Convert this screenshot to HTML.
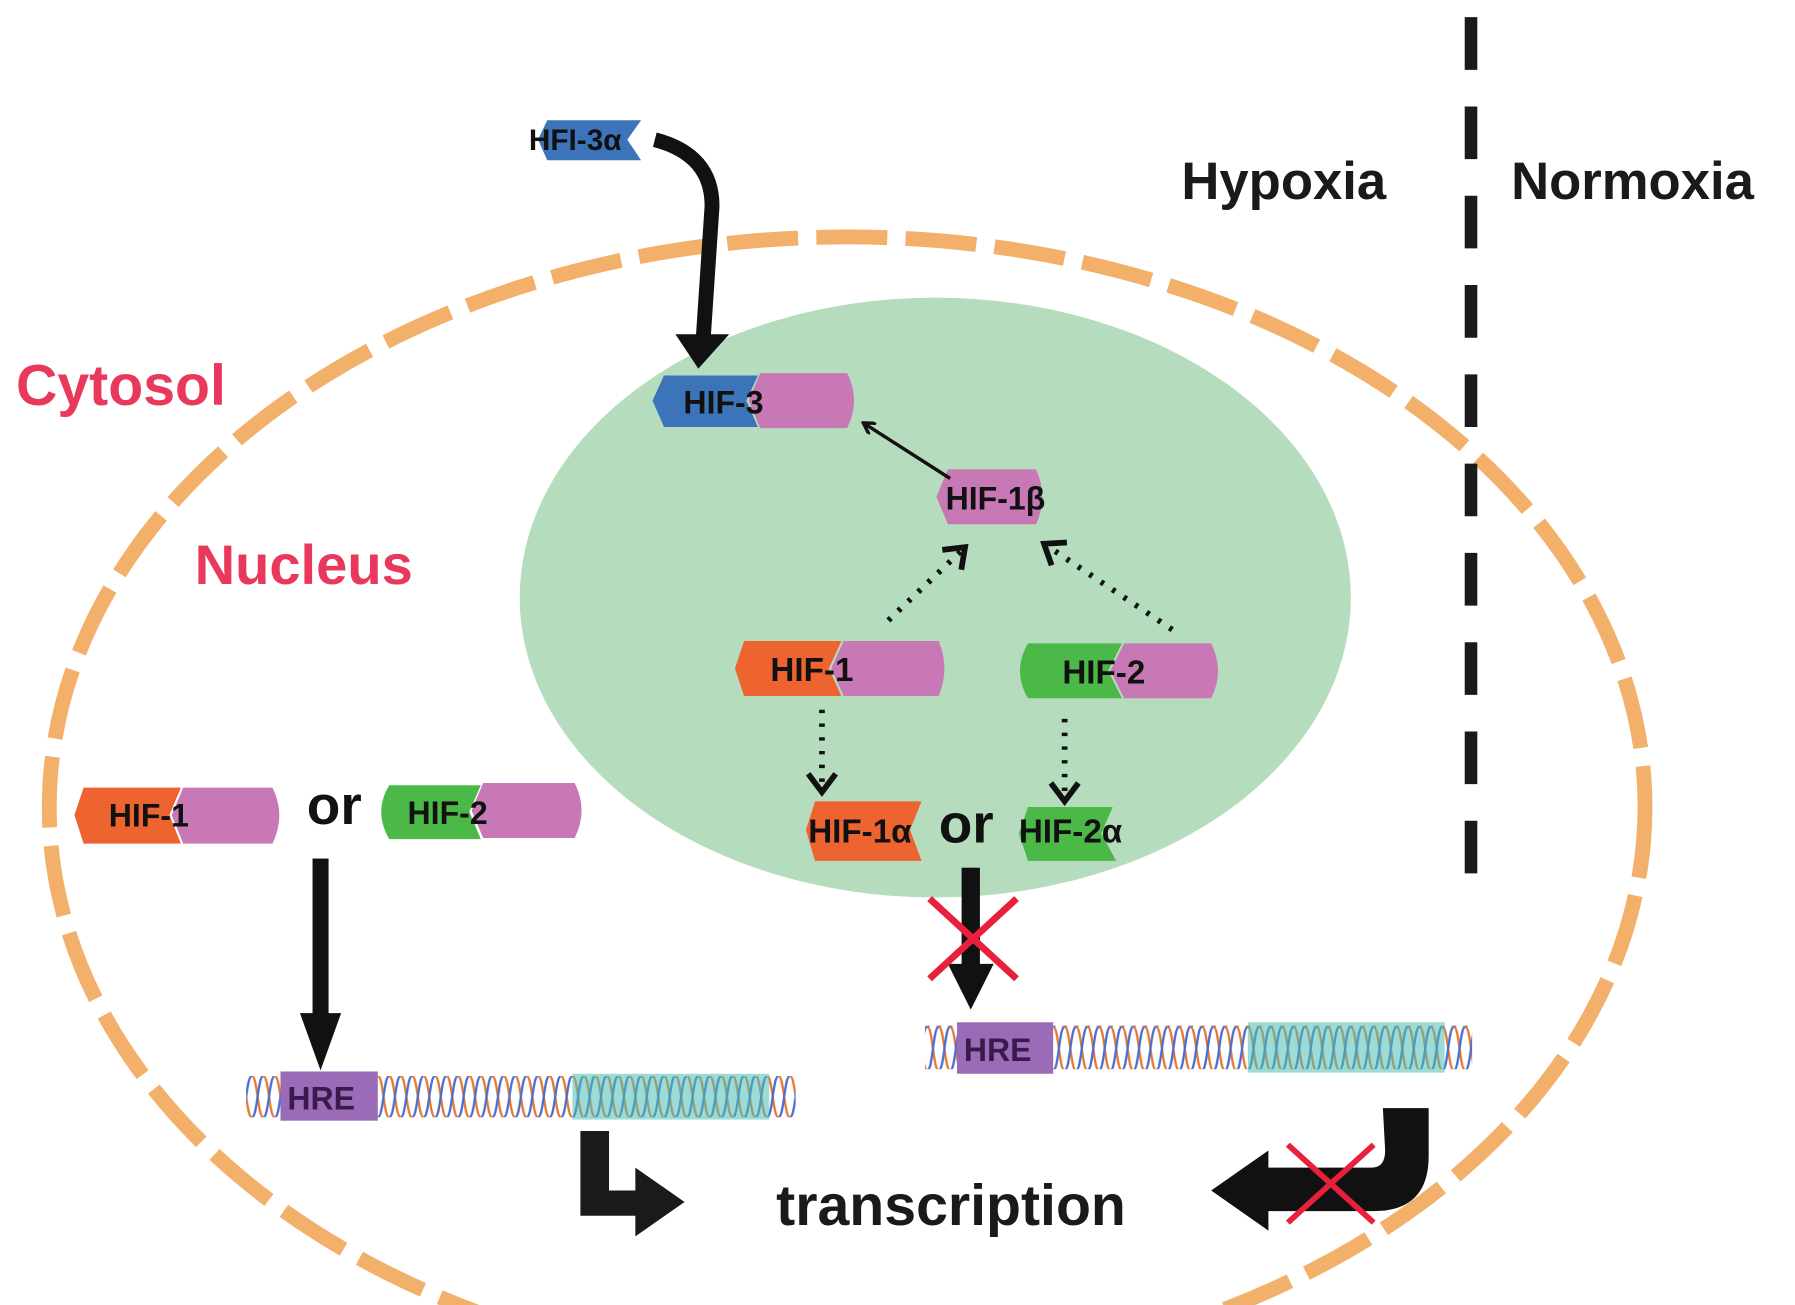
<!DOCTYPE html>
<html><head><meta charset="utf-8"><style>
html,body{margin:0;padding:0;background:#fff;width:1795px;height:1305px;overflow:hidden;}
svg{display:block;overflow:hidden;}
text{font-family:"Liberation Sans",Arial,sans-serif;font-weight:bold;}
</style></head><body>
<svg width="1795" height="1305" viewBox="0 0 1568 1140" xmlns="http://www.w3.org/2000/svg">
<defs>
<clipPath id="frame"><rect x="0" y="0" width="1568" height="1140"/></clipPath>
<pattern id="dnaL" x="0" y="940" width="10" height="36" patternUnits="userSpaceOnUse">
<path d="M0,0 C5,0 5,36 10,36" stroke="#e87830" stroke-width="2" fill="none"/>
<path d="M0,36 C5,36 5,0 10,0" stroke="#4a6ed0" stroke-width="2" fill="none"/>
</pattern>
<pattern id="dnaR" x="0" y="897" width="10" height="38" patternUnits="userSpaceOnUse">
<path d="M0,0 C5,0 5,38 10,38" stroke="#e87830" stroke-width="2" fill="none"/>
<path d="M0,38 C5,38 5,0 10,0" stroke="#4a6ed0" stroke-width="2" fill="none"/>
</pattern>
<marker id="thin" markerWidth="12" markerHeight="12" refX="9" refY="6" orient="auto" markerUnits="userSpaceOnUse">
<path d="M0,0 L10,6 L0,12" fill="none" stroke="#111" stroke-width="3"/>
</marker>
<marker id="open" markerWidth="30" markerHeight="30" refX="20" refY="15" orient="auto" markerUnits="userSpaceOnUse">
<path d="M4,3 L20,15 L4,27" fill="none" stroke="#111" stroke-width="5"/>
</marker>
</defs>
<g clip-path="url(#frame)">
<ellipse cx="740" cy="705" rx="697" ry="498" fill="none" stroke="#f3b06a" stroke-width="13" stroke-dasharray="62 16"/>
</g>
<ellipse cx="817" cy="522" rx="363" ry="262" fill="#b4dcbd"/>

<line x1="1285" y1="15" x2="1285" y2="790" stroke="#1a1a1a" stroke-width="11" stroke-dasharray="46 32"/>

<text x="1032" y="174" font-size="46" fill="#1a1a1a">Hypoxia</text>
<text x="1320" y="174" font-size="46" fill="#1a1a1a">Normoxia</text>
<text x="14" y="354" font-size="50" fill="#e8395c">Cytosol</text>
<text x="170" y="510" font-size="49" fill="#e8395c">Nucleus</text>

<path d="M478,105 L560,105 L548,122 L560,140 L478,140 L470,122 Z" fill="#3c74ba"/>
<text x="462" y="131" font-size="26" fill="#111">HFI-3α</text>
<path d="M572,122 Q622,135 622,180 L614,300" fill="none" stroke="#111" stroke-width="13"/>
<path d="M590,292 L637,292 L610,322 Z" fill="#111"/>

<path d="M580,328 L662,328 L652,350 L662,373 L580,373 L570,350 Z" fill="#3c74ba"/>
<path d="M664,326 L740,326 Q752,350 740,374 L664,374 L654,350 Z" fill="#c878b4"/>
<text x="597" y="361" font-size="28" fill="#111">HIF-3</text>

<path d="M828,410 L905,410 Q916,434 905,458 L828,458 L818,434 Z" fill="#c878b4"/>
<text x="826" y="445" font-size="28" fill="#111">HIF-1β</text>
<line x1="830" y1="418" x2="755" y2="370" stroke="#111" stroke-width="3" marker-end="url(#thin)"/>

<line x1="776" y1="542" x2="843" y2="478" stroke="#111" stroke-width="5" stroke-dasharray="3 9" marker-end="url(#open)"/>
<line x1="1024" y1="550" x2="912" y2="475" stroke="#111" stroke-width="5" stroke-dasharray="3 9" marker-end="url(#open)"/>

<path d="M650,560 L735,560 L724,584 L735,608 L650,608 L642,584 Z" fill="#ee6430"/>
<path d="M737,560 L820,560 Q830,584 820,608 L737,608 L726,584 Z" fill="#c878b4"/>
<text x="673" y="595" font-size="29" fill="#111">HIF-1</text>
<path d="M898,562 L980,562 L968,586 L980,610 L898,610 Q884,586 898,562 Z" fill="#4cb848"/>
<path d="M982,562 L1058,562 Q1070,586 1058,610 L982,610 L970,586 Z" fill="#c878b4"/>
<text x="928" y="597" font-size="29" fill="#111">HIF-2</text>

<line x1="718" y1="620" x2="718" y2="692" stroke="#111" stroke-width="5" stroke-dasharray="3 9" marker-end="url(#open)"/>
<line x1="930" y1="628" x2="930" y2="700" stroke="#111" stroke-width="5" stroke-dasharray="3 9" marker-end="url(#open)"/>

<path d="M712,700 L805,700 L795,725 L805,752 L712,752 L704,725 Z" fill="#ee6430"/>
<text x="706" y="736" font-size="29" fill="#111">HIF-1α</text>
<text x="820" y="736" font-size="48" fill="#111">or</text>
<path d="M898,705 L972,705 L962,728 L975,752 L898,752 L890,728 Z" fill="#4cb848"/>
<text x="890" y="736" font-size="29" fill="#111">HIF-2α</text>

<path d="M73,688 L158,688 L148,712 L158,737 L73,737 L65,712 Z" fill="#ee6430"/>
<path d="M160,688 L238,688 Q250,712 238,737 L160,737 L150,712 Z" fill="#c878b4"/>
<text x="95" y="722" font-size="28" fill="#111">HIF-1</text>
<text x="268" y="720" font-size="48" fill="#111">or</text>
<path d="M340,686 L420,686 L410,709 L420,733 L340,733 Q326,709 340,686 Z" fill="#4cb848"/>
<path d="M422,684 L502,684 Q514,708 502,732 L422,732 L412,708 Z" fill="#c878b4"/>
<text x="356" y="720" font-size="28" fill="#111">HIF-2</text>

<rect x="273" y="750" width="14" height="140" fill="#111"/>
<path d="M262,885 L298,885 L280,935 Z" fill="#111"/>
<rect x="840" y="758" width="16" height="90" fill="#111"/>
<path d="M828,842 L868,842 L848,882 Z" fill="#111"/>
<line x1="812" y1="785" x2="888" y2="855" stroke="#e8203c" stroke-width="6"/>
<line x1="888" y1="785" x2="812" y2="855" stroke="#e8203c" stroke-width="6"/>

<rect x="215" y="940" width="480" height="36" fill="url(#dnaL)"/>
<rect x="500" y="938" width="172" height="40" fill="#4cc0b4" opacity="0.55"/>
<rect x="245" y="936" width="85" height="43" fill="#9a6cb8"/>
<text x="251" y="969" font-size="28" fill="#3a1a4a">HRE</text>
<rect x="808" y="896" width="478" height="38" fill="url(#dnaR)"/>
<rect x="1090" y="893" width="172" height="44" fill="#4cc0b4" opacity="0.55"/>
<rect x="836" y="893" width="84" height="45" fill="#9a6cb8"/>
<text x="842" y="927" font-size="28" fill="#3a1a4a">HRE</text>

<path d="M507,988 L532,988 L532,1040 L555,1040 L555,1020 L598,1050 L555,1080 L555,1062 L507,1062 Z" fill="#1a1a1a"/>
<text x="678" y="1070" font-size="50" fill="#1a1a1a">transcription</text>

<path d="M1208,968 L1248,968 L1248,1010 Q1248,1058 1200,1058 L1108,1058 L1108,1075 L1058,1040 L1108,1005 L1108,1020 L1198,1020 Q1210,1020 1210,1005 Z" fill="#111"/>
<line x1="1125" y1="1000" x2="1200" y2="1068" stroke="#e8203c" stroke-width="5"/>
<line x1="1200" y1="1000" x2="1125" y2="1068" stroke="#e8203c" stroke-width="5"/>
</svg>
</body></html>
